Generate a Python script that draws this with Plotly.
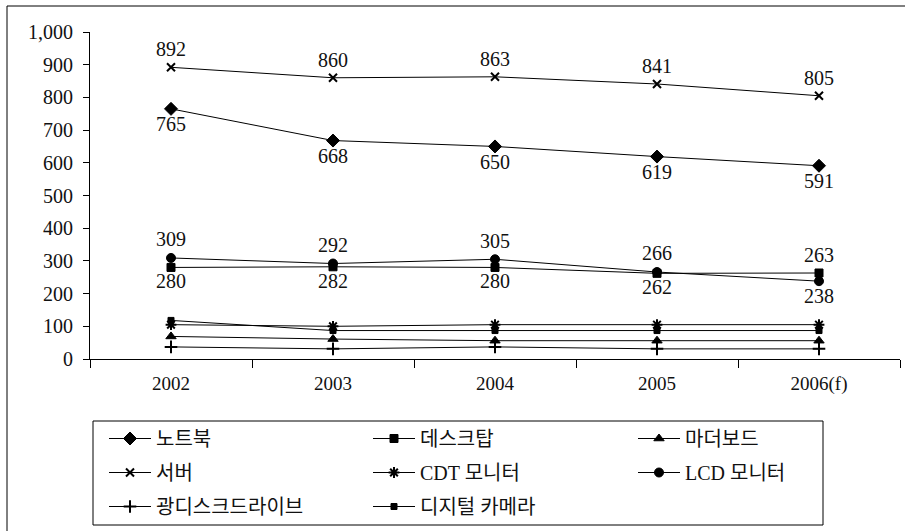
import plotly.graph_objects as go

years = ["2002", "2003", "2004", "2005", "2006(f)"]
names = ["노트북", "데스크탑", "마더보드", "서버", "CDT 모니터", "LCD 모니터", "광디스크드라이브", "디지털 카메라"]
notebook = [765, 668, 650, 619, 591]
desktop = [280, 282, 280, 262, 263]
motherboard = [69, 61, 56, 56, 56]
server = [892, 860, 863, 841, 805]
cdt = [105, 100, 105, 105, 105]
lcd = [309, 292, 305, 266, 238]
odd = [37, 31, 37, 31, 31]
camera = [118, 87, 87, 87, 87]
yticks = [0, 100, 200, 300, 400, 500, 600, 700, 800, 900, 1000]

FONT = "Liberation Serif, Noto Sans CJK KR, serif"
W, H = 905, 531
L, R, T, B = 90, 5, 32, 172
pw, ph = W - L - R, H - T - B

def px(x):
    return (x - L) / pw

def py(y):
    return (H - B - y) / ph

fig = go.Figure()

def add(name, vals, symbol, size, legend, lw=1, text=None, pos=None):
    fig.add_trace(go.Scatter(
        x=years, y=vals, name=name, legend=legend, legendgroup=name,
        mode="lines+markers" + ("+text" if text else ""),
        line=dict(color="black", width=1),
        marker=dict(symbol=symbol, size=size, color="black",
                    line=dict(color="black", width=lw)),
        text=text, textposition=pos,
        textfont=dict(family=FONT, size=20, color="#111"),
    ))

add(names[0], notebook, "diamond", 10, "legend", text=[str(v) for v in notebook], pos="bottom center")
add(names[1], desktop, "square", 8, "legend2", text=[str(v) for v in desktop],
    pos=["bottom center"] * 4 + ["top center"])
add(names[2], motherboard, "triangle-up", 9, "legend3")
add(names[3], server, "x-thin", 8, "legend", lw=2, text=[str(v) for v in server], pos="top center")
add(names[4], cdt, "asterisk-open", 9, "legend2", lw=2)
add(names[5], lcd, "circle", 9, "legend3", text=[str(v) for v in lcd],
    pos=["top center"] * 4 + ["bottom center"])
add(names[6], odd, "cross-thin-open", 9, "legend", lw=2)
add(names[7], camera, "square", 6, "legend2")

def leg(xpix):
    return dict(
        orientation="v", x=px(xpix), y=py(419), xanchor="left", yanchor="top",
        borderwidth=0, tracegroupgap=5, itemwidth=42, bgcolor="rgba(0,0,0,0)",
        font=dict(family=FONT, size=20, color="#111"),
    )

fig.update_layout(
    width=W, height=H,
    margin=dict(l=L, r=R, t=T, b=B),
    paper_bgcolor="white", plot_bgcolor="white",
    font=dict(family=FONT, size=20, color="#111"),
    showlegend=True,
    legend=leg(104), legend2=leg(368), legend3=leg(633),
    xaxis=dict(
        type="category", range=[-0.5, 4.5], showgrid=False,
        showline=True, linecolor="black", linewidth=1,
        ticks="outside", tickson="boundaries", ticklen=8, tickcolor="black",
        tickfont=dict(family=FONT, size=19, color="#111"),
        zeroline=False, ticklabelstandoff=7,
    ),
    yaxis=dict(
        range=[0, 1000], tickvals=yticks, ticktext=[f"{v:,}" for v in yticks],
        showgrid=False, showline=True, linecolor="black", linewidth=1,
        ticks="outside", ticklen=6, tickcolor="black",
        tickfont=dict(family=FONT, size=20, color="#111"),
        zeroline=False, ticklabelstandoff=6,
    ),
    shapes=[
        dict(type="line", xref="paper", yref="paper", x0=px(7), x1=px(905), y0=py(6), y1=py(6),
             line=dict(color="black", width=1)),
        dict(type="line", xref="paper", yref="paper", x0=px(7), x1=px(7), y0=py(6), y1=py(531),
             line=dict(color="black", width=1)),
        dict(type="rect", xref="paper", yref="paper", x0=px(93), x1=px(823), y0=py(421), y1=py(525),
             line=dict(color="black", width=1)),
    ],
)

fig.write_html("out.html")
